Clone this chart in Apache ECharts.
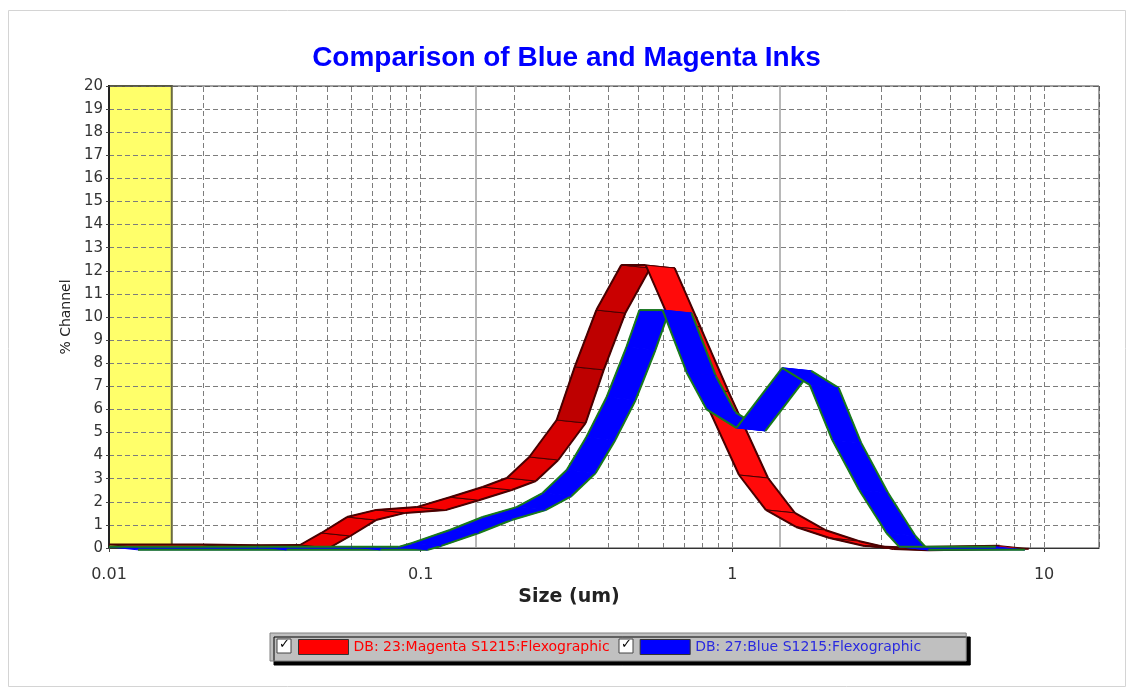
<!DOCTYPE html>
<html>
<head>
<meta charset="utf-8">
<title>Comparison of Blue and Magenta Inks</title>
<script src="https://cdn.jsdelivr.net/npm/echarts@6/dist/echarts.min.js"></script>
<style>
html, body { margin: 0; padding: 0; background: #fff; }
#chart { width: 1133px; height: 693px; }
</style>
</head>
<body>
<div id="chart"></div>
<script>
// particle size (um) against % channel, read along the front edge of each ribbon
var magentaSize = [0.01, 0.02, 0.03, 0.041, 0.048, 0.058, 0.072, 0.097, 0.124, 0.158, 0.189, 0.223, 0.273, 0.312, 0.366, 0.44, 0.527, 0.637, 0.784, 1.05, 1.28, 1.6, 2.05, 2.65, 3.43, 7.2]
var magentaPct = [0.15, 0.15, 0.12, 0.13, 0.65, 1.34, 1.65, 1.77, 2.2, 2.64, 3.03, 3.94, 5.54, 7.84, 10.3, 12.25, 12.25, 9.7, 6.9, 3.16, 1.65, 0.91, 0.43, 0.09, 0.03, 0.1]

var blueSize = [0.01, 0.03, 0.06, 0.085, 0.094, 0.124, 0.158, 0.203, 0.246, 0.294, 0.34, 0.395, 0.457, 0.503, 0.597, 0.713, 0.826, 1.03, 1.445, 1.77, 2.09, 2.55, 3.12, 3.43, 7.0]
var bluePct = [0.05, 0.05, 0.05, 0.05, 0.22, 0.78, 1.34, 1.77, 2.38, 3.38, 4.81, 6.54, 8.7, 10.3, 10.3, 7.6, 6.0, 5.2, 7.8, 7.06, 4.68, 2.51, 0.65, 0.05, 0.05]

var seriesNames = ['DB: 23:Magenta S1215:Flexographic', 'DB: 27:Blue S1215:Flexographic']

// axis ticks and the region markers on the size axis
var xTicks = [0.01, 0.1, 1, 10]
var xTickLabels = ['0.01', '0.1', '1', '10']
var xMinorGrid = [0.02, 0.03, 0.04, 0.05, 0.06, 0.07, 0.08, 0.09,
  0.2, 0.3, 0.4, 0.5, 0.6, 0.7, 0.8, 0.9,
  2, 3, 4, 5, 6, 7, 8, 9]
var lowCut = [0.01, 0.0159] // yellow band
var markerSize = [0.146, 1.42] // solid grey lines

var depth = [29, 3] // 3d ribbon depth in pixels

function lerp (c0, c1, t) {
  return 'rgb(' + c0.map(function (v, i) { return Math.round(v + (c1[i] - v) * t) }).join(',') + ')'
}

function ribbon (name, sizes, pcts, opt) {
  var data = []
  for (var i = 0; i < sizes.length - 1; i++) {
    data.push([sizes[i], pcts[i], sizes[i + 1], pcts[i + 1]])
  }
  return {
    type: 'custom',
    name: name,
    z: 5,
    silent: true,
    itemStyle: { color: opt.color },
    encode: { x: [0, 2], y: [1, 3] },
    data: data,
    renderItem: function (params, api) {
      var a = api.coord([api.value(0), api.value(1)])
      var b = api.coord([api.value(2), api.value(3)])
      var a2 = [a[0] + depth[0], a[1] + depth[1]]
      var b2 = [b[0] + depth[0], b[1] + depth[1]]
      var fill = opt.color
      if (opt.shade) {
        var rise = (a[1] - b[1]) / Math.max(1, b[0] - a[0])
        fill = rise > 0 ? lerp([255, 0, 0], [190, 0, 0], Math.min(1, rise / 2.2)) : '#ff0a0a'
      }
      return {
        type: 'group',
        children: [
          { type: 'polygon', shape: { points: [a, b, b2, a2] }, style: { fill: fill, stroke: opt.divider, lineWidth: 1 } },
          { type: 'polyline', shape: { points: [a, b] }, style: { fill: null, stroke: opt.edge, lineWidth: 2 } },
          { type: 'polyline', shape: { points: [a2, b2] }, style: { fill: null, stroke: opt.edge, lineWidth: 2 } }
        ]
      }
    }
  }
}

var dashed = { color: '#7d7d7d', width: 1, type: [5, 3] }

var option = {
  backgroundColor: '#ffffff',
  animation: false,
  title: {
    text: 'Comparison of Blue and Magenta Inks',
    left: 'center',
    top: 39,
    textStyle: { color: '#0000ff', fontSize: 28, fontWeight: 'bold', fontFamily: 'Liberation Sans' }
  },
  grid: {
    left: 109,
    right: 34,
    top: 86,
    bottom: 145,
    show: true,
    z: 4,
    backgroundColor: 'transparent',
    borderColor: '#444',
    borderWidth: 1
  },
  legend: {
    left: 270,
    top: 633,
    padding: [6, 45, 6, 28],
    itemGap: 30,
    itemWidth: 50,
    itemHeight: 15,
    icon: 'rect',
    selectedMode: false,
    backgroundColor: '#c0c0c0',
    borderColor: '#808080',
    borderWidth: 1,
    shadowColor: '#000',
    shadowBlur: 0,
    shadowOffsetX: 4,
    shadowOffsetY: 4,
    itemStyle: { borderColor: '#333', borderWidth: 1 },
    textStyle: { fontSize: 14, fontFamily: 'DejaVu Sans' },
    data: [
      { name: seriesNames[0], textStyle: { color: '#ff0000' } },
      { name: seriesNames[1], textStyle: { color: '#2a2adf' } }
    ]
  },
  xAxis: {
    type: 'log',
    min: 0.01,
    max: 15,
    z: 3,
    name: 'Size (um)',
    nameLocation: 'middle',
    nameGap: 38,
    nameTextStyle: { fontSize: 19, fontWeight: 'bold', color: '#222', fontFamily: 'DejaVu Sans', padding: [0, 70, 0, 0] },
    axisLine: { lineStyle: { color: '#222', width: 1 } },
    axisTick: { show: true, length: 4, lineStyle: { color: '#444' } },
    axisLabel: {
      margin: 19,
      fontSize: 16,
      color: '#333',
      fontFamily: 'DejaVu Sans',
      showMaxLabel: false,
      formatter: function (v) {
        for (var i = 0; i < xTicks.length; i++) {
          if (Math.abs(Math.log10(v) - Math.log10(xTicks[i])) < 1e-6) return xTickLabels[i]
        }
        return ''
      }
    },
    splitLine: { show: true, lineStyle: dashed }
  },
  yAxis: {
    type: 'value',
    min: 0,
    max: 20,
    interval: 1,
    z: 3,
    name: '% Channel',
    nameLocation: 'middle',
    nameGap: 34,
    nameTextStyle: { fontSize: 14, color: '#222', fontFamily: 'DejaVu Sans' },
    axisLine: { show: true, lineStyle: { color: '#000', width: 2 } },
    axisTick: { show: true, length: 3, lineStyle: { color: '#444' } },
    axisLabel: { fontSize: 15, color: '#333', margin: 6, fontFamily: 'DejaVu Sans' },
    splitLine: { show: true, lineStyle: dashed }
  },
  graphic: [
    { type: 'rect', z: -1, shape: { x: 8.5, y: 10.5, width: 1117, height: 676 }, style: { fill: null, stroke: '#d4d4d4', lineWidth: 1 } },
    { type: 'rect', z: 100, shape: { x: 277, y: 639, width: 14, height: 14 }, style: { fill: '#fff', stroke: '#444', lineWidth: 1 } },
    { type: 'text', z: 101, x: 279, y: 638, style: { text: '\u2713', font: 'bold 13px DejaVu Sans', fill: '#000' } },
    { type: 'rect', z: 100, shape: { x: 619, y: 639, width: 14, height: 14 }, style: { fill: '#fff', stroke: '#444', lineWidth: 1 } },
    { type: 'text', z: 101, x: 621, y: 638, style: { text: '\u2713', font: 'bold 13px DejaVu Sans', fill: '#000' } }
  ],
  series: [
    {
      // yellow low-size band
      type: 'line',
      data: [],
      z: 1,
      silent: true,
      markArea: {
        silent: true,
        itemStyle: { color: '#ffff6a', borderColor: '#6b6b40', borderWidth: 2 },
        data: [[{ xAxis: lowCut[0] }, { xAxis: lowCut[1] }]]
      }
    },
    {
      // log minor grid and region markers
      type: 'line',
      data: [],
      z: 4,
      silent: true,
      markLine: {
        silent: true,
        symbol: 'none',
        label: { show: false },
        data: xMinorGrid.map(function (v) { return { xAxis: v, lineStyle: dashed } })
          .concat(markerSize.map(function (v) { return { xAxis: v, lineStyle: { color: '#a0a0a0', width: 1.5, type: 'solid' } } }))
      }
    },
    ribbon(seriesNames[0], magentaSize, magentaPct, { color: '#ff0000', shade: true, divider: '#4a0000', edge: '#4a0000' }),
    ribbon(seriesNames[1], blueSize, bluePct, { color: '#0000ff', shade: false, divider: '#0000ff', edge: '#1a7a1a' })
  ]
}

var chart = echarts.init(document.getElementById('chart'))
chart.setOption(option)
</script>
</body>
</html>
